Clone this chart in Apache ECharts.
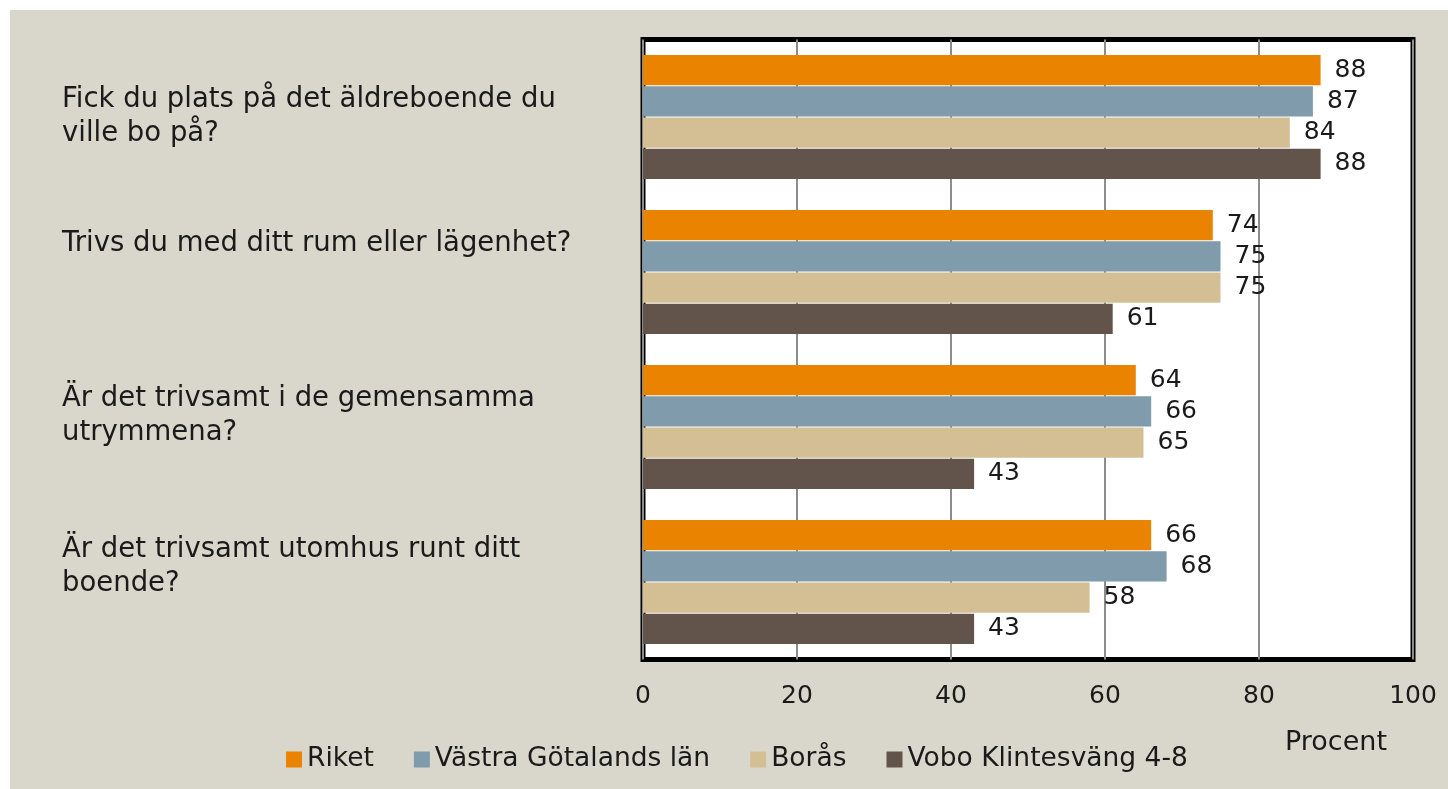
<!DOCTYPE html>
<html><head><meta charset="utf-8">
<script src="https://cdn.jsdelivr.net/npm/echarts@6/dist/echarts.min.js"></script>
<style>html,body{margin:0;padding:0;background:#fff}#c{width:1448px;height:789px}</style>
</head><body><div id="c"></div>
<script>
const categories = [
  "Fick du plats på det äldreboende du\nville bo på?",
  "Trivs du med ditt rum eller lägenhet?",
  "Är det trivsamt i de gemensamma\nutrymmena?",
  "Är det trivsamt utomhus runt ditt\nboende?"
];
const seriesNames = ["Riket", "Västra Götalands län", "Borås", "Vobo Klintesväng 4-8"];
const riket = [88, 74, 64, 66];
const vastra = [87, 75, 66, 68];
const boras = [84, 75, 65, 58];
const vobo = [88, 61, 43, 43];
const xTicks = [0, 20, 40, 60, 80, 100];
const axisTitle = "Procent";

const colors = ["#E98300", "#7F9BAC", "#D4BF95", "#62544A"];
const FONT = "DejaVu Sans";
const spacer = [0, 56, 22, 30];

const chart = echarts.init(document.getElementById('c'));
const values = [riket, vastra, boras, vobo];
chart.setOption({
  animation: false,
  backgroundColor: 'transparent',
  textStyle: { fontFamily: FONT },
  graphic: [
    { type: 'rect', z: -10, shape: { x: 10, y: 10, width: 1438, height: 779 }, style: { fill: '#D9D7CB' } },
    { type: 'text', left: 1285, top: 729, style: { text: axisTitle, fontFamily: FONT, fontSize: 27, fill: '#1a1a1a' } }
  ],
  legend: {
    left: 281, top: 741, itemWidth: 16, itemHeight: 16, itemGap: 40,
    icon: 'rect',
    textStyle: { fontFamily: FONT, fontSize: 26.5, color: '#1a1a1a' },
    data: seriesNames
  },
  grid: {
    left: 643, top: 39.5, right: 35, bottom: 129.5, show: true,
    backgroundColor: '#ffffff', borderColor: '#000000', borderWidth: 5
  },
  xAxis: {
    type: 'value', min: 0, max: 100, interval: 20,
    axisLine: { show: false }, axisTick: { show: false },
    splitLine: { show: true, lineStyle: { color: '#8c8c8c', width: 2 } },
    axisLabel: { fontFamily: FONT, fontSize: 25, color: '#1a1a1a', margin: 24,
      formatter: v => xTicks.includes(v) ? String(v) : '' }
  },
  yAxis: {
    type: 'category', inverse: true, data: categories,
    axisLine: { show: false }, axisTick: { show: false },
    axisLabel: {
      align: 'left', margin: 581, fontFamily: FONT, fontSize: 27.5, color: '#1a1a1a', lineHeight: 34,
      formatter: (v, i) => {
        const lines = v.split('\n').map(l => '{t|' + l + '}');
        if (spacer[i]) lines.push('{s' + i + '| }');
        return lines.join('\n');
      },
      rich: {
        t: { fontFamily: FONT, fontSize: 27.5, color: '#1a1a1a', lineHeight: 34 },
        s1: { lineHeight: 56, fontSize: 10 },
        s2: { lineHeight: 22, fontSize: 10 },
        s3: { lineHeight: 30, fontSize: 10 }
      }
    }
  },
  series: seriesNames.map((n, k) => ({
    name: n, type: 'bar', data: values[k],
    barGap: '3%', barCategoryGap: '20%',
    itemStyle: { color: colors[k] },
    label: { show: true, position: 'right', distance: 14, fontFamily: FONT, fontSize: 25, color: '#1a1a1a' }
  }))
});
</script></body></html>
